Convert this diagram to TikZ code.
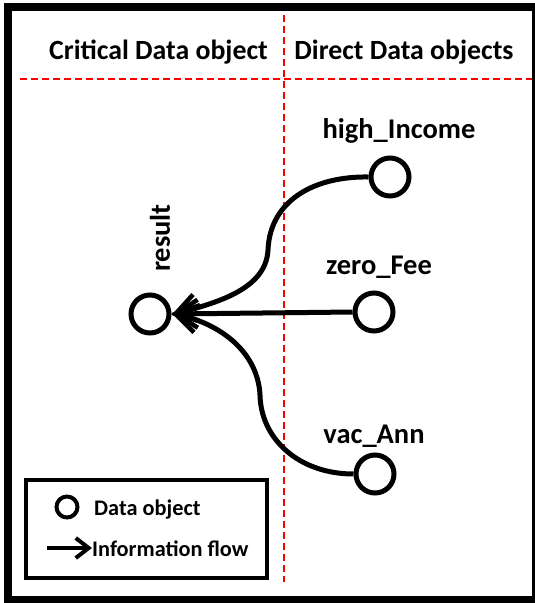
\documentclass[tikz,border=0pt]{standalone}
\usepackage{fontspec}
\setmainfont{Carlito}
\usetikzlibrary{arrows.meta}
\begin{document}
\begin{tikzpicture}[x=1pt,y=-1pt,
  lbl/.style={font=\bfseries\fontsize{28.5}{32}\selectfont, inner sep=0pt, anchor=base},
  head/.style={font=\bfseries\fontsize{27.8}{32}\selectfont, inner sep=0pt, anchor=base},
  dobj/.style={circle, draw, line width=5pt, minimum size=38pt, inner sep=0pt},
  flow/.style={line width=5pt, -{Straight Barb[length=22pt,width=28pt,line width=4.5pt]}},
  divider/.style={red, line width=2pt, dash pattern=on 7pt off 4pt},
  legtext/.style={font=\bfseries\fontsize{22.3}{26}\selectfont, inner sep=0pt, anchor=base west}]
\useasboundingbox (0,0) rectangle (535,603);
\fill[white] (0,0) rectangle (535,603);

% region dividers
\draw[divider] (284,15) -- (284,582);
\draw[divider] (20,79) -- (540,79);

% outer frame
\draw[line width=8pt] (8,7) rectangle (536,600);

% column headings
\node[head] (hcrit) at (158.5,59) {Critical Data object};
\node[head] (hdir) at (404,59) {Direct Data objects};

% data objects
\node[dobj] (res) at (150,314) {};
\node[dobj] (hi) at (390,177) {};
\node[dobj] (zf) at (374,312) {};
\node[dobj] (va) at (375,474) {};

% labels
\node[lbl, rotate=90, anchor=center] (lres) at (160,238) {result};
\node[lbl] (lhi) at (399,138) {high\_Income};
\node[lbl] (lzf) at (379,274) {zero\_Fee};
\node[lbl] (lva) at (374,443) {vac\_Ann};

% information flows
\coordinate (m1) at (268,250);
\coordinate (m2) at (260,395);
\draw[flow] (hi.west) .. controls (315,176) and (270,200) .. (m1)
  .. controls (266,290) and (215,303) .. ([yshift=-1pt]res.east);
\draw[flow] (zf.west) -- (res.east);
\draw[flow] (va.west) .. controls (300,474) and (261,440) .. (m2)
  .. controls (258,355) and (225,325) .. ([yshift=1pt]res.east);

% legend
\draw[line width=4pt] (26,480) rectangle (267,578);
\node[circle, draw, line width=4pt, minimum size=21pt, inner sep=0pt] (lgc) at (67,507) {};
\node[legtext] (lgt1) at (94,515) {Data object};
\coordinate (la) at (47,548);
\node[legtext] (lgt2) at (92,556) {Information flow};
\draw[line width=4pt, -{Straight Barb[length=13pt,width=20pt]}] (la) -- (lgt2.west |- la);
\end{tikzpicture}
\end{document}
